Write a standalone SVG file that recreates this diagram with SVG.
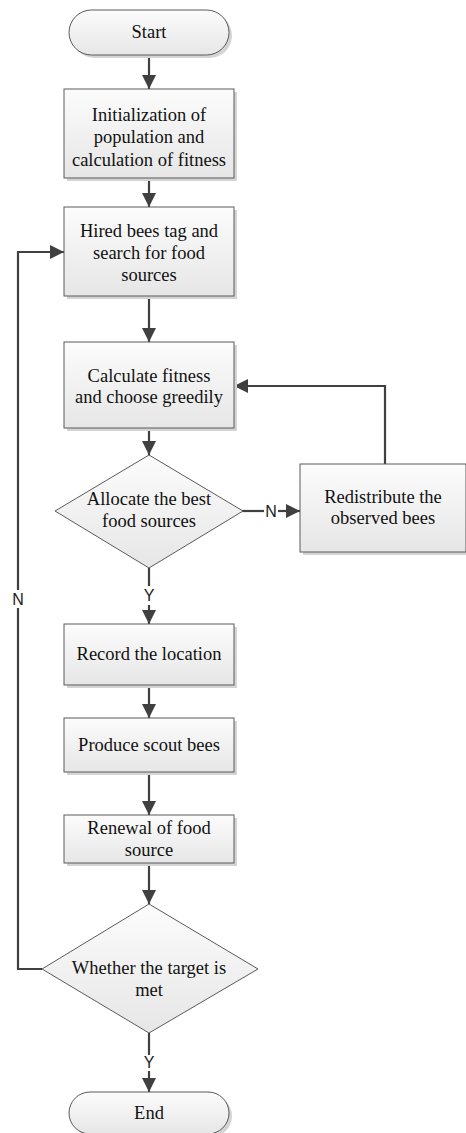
<svg xmlns="http://www.w3.org/2000/svg" width="466" height="1133" viewBox="0 0 466 1133">
<defs>
<linearGradient id="g" x1="0" y1="0" x2="0" y2="1">
<stop offset="0" stop-color="#fcfcfc"/>
<stop offset="1" stop-color="#e6e6e6"/>
</linearGradient>
<marker id="ah" markerWidth="14" markerHeight="14" refX="14" refY="7" orient="auto" markerUnits="userSpaceOnUse">
<path d="M0,0 L14,7 L0,14 Z" fill="#404040"/>
</marker>
</defs>
<style>
.sh{fill:#d4d4d4;stroke:none}
.bx{fill:url(#g);stroke:#5a5a5a;stroke-width:1}
.t{font-family:"Liberation Serif",serif;font-size:18.5px;fill:#111;text-anchor:middle}
.l{font-family:"Liberation Sans",Arial,sans-serif;font-size:16px;fill:#222;text-anchor:middle}
.c{fill:none;stroke:#404040;stroke-width:2.2}
.ca{fill:none;stroke:#404040;stroke-width:2.2;marker-end:url(#ah)}
</style>
<rect width="466" height="1133" fill="#fff"/>
<g id="connectors">
<path class="ca" d="M149,55 V89"/>
<path class="ca" d="M149,178 V207"/>
<path class="ca" d="M149,296 V342"/>
<path class="ca" d="M149,428 V455"/>
<path class="c" d="M149,568 V586"/>
<path class="ca" d="M149,605 V624"/>
<path class="c" d="M242,511 H264"/>
<path class="ca" d="M278,511 H300"/>
<path class="ca" d="M385,464 V386 H234"/>
<path class="ca" d="M149,685 V718"/>
<path class="ca" d="M149,772 V815"/>
<path class="ca" d="M149,863 V904"/>
<path class="c" d="M149,1033 V1055"/>
<path class="ca" d="M149,1071 V1092"/>
<path class="c" d="M42,969 H18 V608"/>
<path class="ca" d="M18,590 V252 H64"/>
<text class="l" x="271" y="517">N</text>
<text class="l" x="149" y="601">Y</text>
<text class="l" x="18" y="605">N</text>
<text class="l" x="149" y="1068">Y</text>
</g>
<g id="start">
<rect class="sh" x="72" y="13" width="160" height="45" rx="22.5"/>
<rect class="bx" x="69" y="10" width="160" height="45" rx="22.5"/>
<text class="t" x="149" y="38">Start</text>
</g>
<g id="init">
<rect class="sh" x="67" y="92" width="170" height="89"/>
<rect class="bx" x="64" y="89" width="170" height="89"/>
<text class="t" x="149" y="121">Initialization of</text>
<text class="t" x="149" y="143">population and</text>
<text class="t" x="149" y="166">calculation of fitness</text>
</g>
<g id="hired">
<rect class="sh" x="67" y="210" width="170" height="89"/>
<rect class="bx" x="64" y="207" width="170" height="89"/>
<text class="t" x="149" y="237">Hired bees tag and</text>
<text class="t" x="149" y="259">search for food</text>
<text class="t" x="149" y="281">sources</text>
</g>
<g id="calc">
<rect class="sh" x="67" y="345" width="170" height="86"/>
<rect class="bx" x="64" y="342" width="170" height="86"/>
<text class="t" x="149" y="382">Calculate fitness</text>
<text class="t" x="149" y="403">and choose greedily</text>
</g>
<g id="allocate">
<polygon class="bx" points="149,455 243,511 149,568 55,511"/>
<text class="t" x="149" y="505">Allocate the best</text>
<text class="t" x="149" y="527">food sources</text>
</g>
<g id="redistribute">
<rect class="sh" x="303" y="467" width="166" height="88"/>
<rect class="bx" x="300" y="464" width="166" height="88"/>
<text class="t" x="383" y="503">Redistribute the</text>
<text class="t" x="383" y="524">observed bees</text>
</g>
<g id="record">
<rect class="sh" x="67" y="627" width="170" height="61"/>
<rect class="bx" x="64" y="624" width="170" height="61"/>
<text class="t" x="149" y="660">Record the location</text>
</g>
<g id="produce">
<rect class="sh" x="67" y="721" width="170" height="54"/>
<rect class="bx" x="64" y="718" width="170" height="54"/>
<text class="t" x="149" y="751">Produce scout bees</text>
</g>
<g id="renewal">
<rect class="sh" x="67" y="818" width="170" height="48"/>
<rect class="bx" x="64" y="815" width="170" height="48"/>
<text class="t" x="149" y="834">Renewal of food</text>
<text class="t" x="149" y="856">source</text>
</g>
<g id="target">
<polygon class="bx" points="149,904 258,969 149,1033 42,969"/>
<text class="t" x="149" y="974">Whether the target is</text>
<text class="t" x="149" y="996">met</text>
</g>
<g id="end">
<rect class="sh" x="72" y="1095" width="160" height="42" rx="21"/>
<rect class="bx" x="69" y="1092" width="160" height="42" rx="21"/>
<text class="t" x="149" y="1119">End</text>
</g>
</svg>
